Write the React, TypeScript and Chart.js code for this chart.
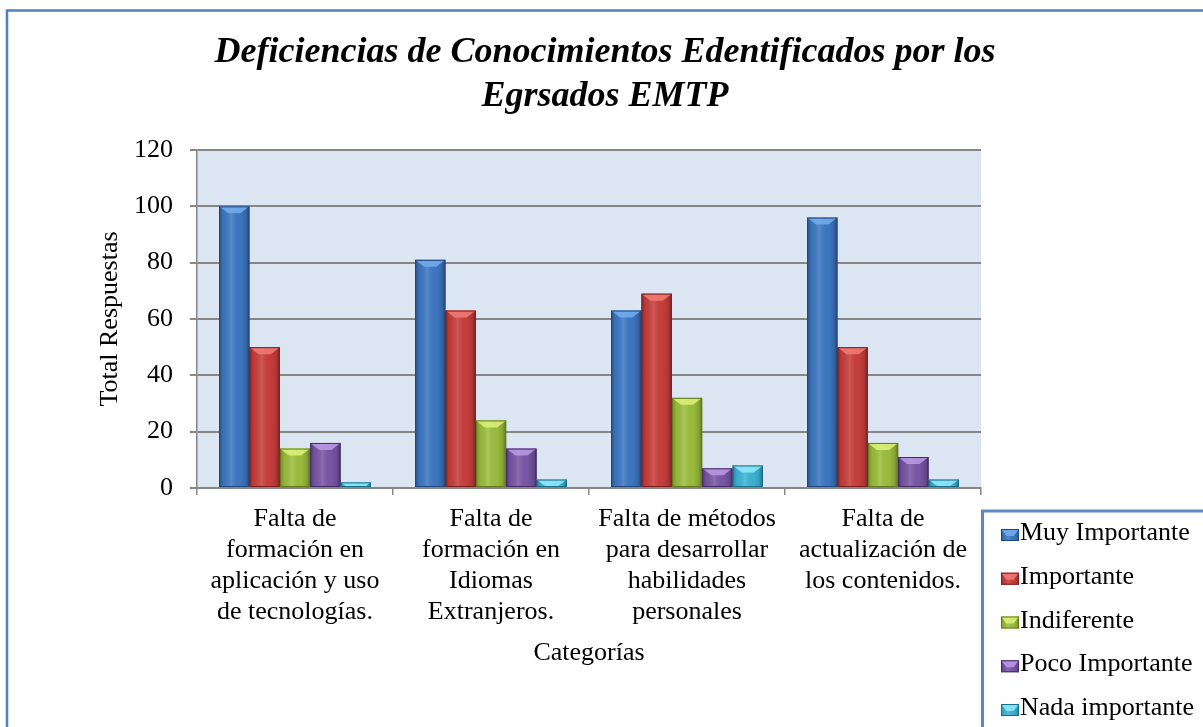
import React, { useEffect, useRef } from "react";
import { Chart, registerables } from "chart.js";

Chart.register(...registerables);

const chartTitle = ["Deficiencias de Conocimientos Edentificados por los", "Egrsados EMTP"];
const categories = [
  ["Falta de", "formación en", "aplicación y uso", "de tecnologías."],
  ["Falta de", "formación en", "Idiomas", "Extranjeros."],
  ["Falta de métodos", "para desarrollar", "habilidades", "personales"],
  ["Falta de", "actualización de", "los contenidos."],
];
const seriesNames = ["Muy Importante", "Importante", "Indiferente", "Poco Importante", "Nada importante"];
const muyImportante = [100, 81, 63, 96];
const importante = [50, 63, 69, 50];
const indiferente = [14, 24, 32, 16];
const pocoImportante = [16, 14, 7, 11];
const nadaImportante = [2, 3, 8, 3];
const seriesValues = [muyImportante, importante, indiferente, pocoImportante, nadaImportante];
const yMin = 0;
const yMax = 120;
const yStep = 20;
const xAxisTitle = "Categorías";
const yAxisTitle = "Total Respuestas";

const FONT = "'Liberation Serif', 'Times New Roman', Times, serif";
const GRID = "#868686";
const FRAME = "#4F81BD";
const PLOT_BG = "#DCE6F2";

const palette = [
  { fill: "#3D78C3", dark: "#1E477F", light: "#74AEEE" },
  { fill: "#C93F3C", dark: "#7E1C1A", light: "#F07C78" },
  { fill: "#9DBF3E", dark: "#5E7A1C", light: "#DDF27A" },
  { fill: "#7A57A7", dark: "#45296B", light: "#BB9BE4" },
  { fill: "#3DB6D7", dark: "#1A6F88", light: "#8FEAFB" },
];

function drawBevelBox(ctx: CanvasRenderingContext2D, l: number, t: number, w: number, h: number, pal: any) {
  if (h <= 0 || w <= 0) return;
  const r = l + w;
  ctx.save();
  const g = ctx.createLinearGradient(l, 0, r, 0);
  g.addColorStop(0, "rgba(0,0,0,0.30)");
  g.addColorStop(0.14, "rgba(0,0,0,0.06)");
  g.addColorStop(0.4, "rgba(255,255,255,0.13)");
  g.addColorStop(0.7, "rgba(0,0,0,0.02)");
  g.addColorStop(0.88, "rgba(0,0,0,0.14)");
  g.addColorStop(1, "rgba(0,0,0,0.38)");
  ctx.fillStyle = g;
  ctx.fillRect(l, t, w, h);
  const depth = Math.min(7, h);
  const inset = Math.min(w * 0.3, w / 2 - 1);
  ctx.beginPath();
  ctx.moveTo(l, t);
  ctx.lineTo(r, t);
  ctx.lineTo(r - inset * (depth / 7), t + depth);
  ctx.lineTo(l + inset * (depth / 7), t + depth);
  ctx.closePath();
  ctx.globalAlpha = 0.85;
  ctx.fillStyle = pal.light;
  ctx.fill();
  ctx.globalAlpha = 1;
  ctx.strokeStyle = pal.dark;
  ctx.lineWidth = 1;
  ctx.strokeRect(l + 0.5, t + 0.5, w - 1, h - 1);
  ctx.restore();
}

const plotBackgroundPlugin = {
  id: "plotBackground",
  beforeDraw(chart: any) {
    const { ctx, chartArea } = chart;
    ctx.save();
    ctx.fillStyle = "#ffffff";
    ctx.fillRect(0, 0, chart.width, chart.height);
    ctx.strokeStyle = FRAME;
    ctx.lineWidth = 2.5;
    ctx.beginPath();
    ctx.moveTo(7, chart.height + 5);
    ctx.lineTo(7, 10.5);
    ctx.lineTo(chart.width + 5, 10.5);
    ctx.stroke();
    ctx.fillStyle = PLOT_BG;
    ctx.fillRect(chartArea.left, chartArea.top, chartArea.right - chartArea.left, chartArea.bottom - chartArea.top);
    ctx.restore();
  },
};

const titlePlacementPlugin = {
  id: "titlePlacement",
  afterLayout(chart: any) {
    const tb = chart.titleBlock;
    if (tb) {
      tb.left = 6;
      tb.right = 1204;
      tb.width = tb.right - tb.left;
    }
  },
};

const bevelPlugin = {
  id: "bevel",
  afterDatasetsDraw(chart: any) {
    const ctx = chart.ctx;
    chart.data.datasets.forEach((_ds: any, di: number) => {
      const meta = chart.getDatasetMeta(di);
      if (meta.hidden) return;
      meta.data.forEach((el: any) => {
        const { x, y, base, width } = el.getProps(["x", "y", "base", "width"], true);
        const t = Math.min(y, base);
        const h = Math.abs(base - y);
        drawBevelBox(ctx, x - width / 2, t, width, h, palette[di]);
      });
    });
  },
};

const boxedLegendPlugin = {
  id: "boxedLegend",
  afterDraw(chart: any) {
    const { ctx, chartArea } = chart;
    const boxLeft = chartArea.right + 1.5;
    const boxTop = 511;
    ctx.save();
    ctx.fillStyle = "#ffffff";
    ctx.fillRect(boxLeft, boxTop, chart.width - boxLeft + 5, chart.height - boxTop + 5);
    ctx.strokeStyle = "#5A8AC6";
    ctx.lineWidth = 3;
    ctx.strokeRect(boxLeft, boxTop, chart.width - boxLeft + 20, chart.height - boxTop + 20);
    ctx.font = `26px ${FONT}`;
    ctx.textBaseline = "alphabetic";
    ctx.textAlign = "left";
    chart.data.datasets.forEach((ds: any, i: number) => {
      const baseline = 540 + i * 43.75;
      const pal = palette[i];
      ctx.fillStyle = pal.fill;
      ctx.fillRect(1001, baseline - 11, 18, 12);
      drawBevelBox(ctx, 1001, baseline - 11, 18, 12, pal);
      ctx.fillStyle = "#000000";
      ctx.fillText(ds.label, 1020, baseline);
    });
    ctx.restore();
  },
};

export default function App() {
  const canvasRef = useRef<HTMLCanvasElement | null>(null);

  useEffect(() => {
    const canvas = canvasRef.current;
    if (!canvas) return;
    const chart = new Chart(canvas, {
      type: "bar",
      data: {
        labels: categories,
        datasets: seriesNames.map((name, i) => ({
          label: name,
          data: seriesValues[i],
          backgroundColor: palette[i].fill,
          borderWidth: 0,
          categoryPercentage: 0.775,
          barPercentage: 1,
        })),
      },
      options: {
        responsive: false,
        animation: false,
        events: [],
        layout: { padding: { left: 0, right: 222, top: 0, bottom: 0 } },
        plugins: {
          legend: { display: false },
          tooltip: { enabled: false },
          title: {
            display: true,
            text: chartTitle,
            color: "#000000",
            font: { family: FONT, size: 36, weight: "bold", style: "italic", lineHeight: 44 / 36 },
            padding: { top: 31, bottom: 31 },
          },
        },
        scales: {
          x: {
            grid: { drawOnChartArea: false, drawTicks: true, tickLength: 7, color: GRID, lineWidth: 1.5, offset: true },
            border: { display: true, color: GRID, width: 2 },
            ticks: {
              autoSkip: false,
              maxRotation: 0,
              minRotation: 0,
              padding: 9,
              color: "#000000",
              font: { family: FONT, size: 26, lineHeight: 31 / 26 },
            },
            title: {
              display: true,
              text: xAxisTitle,
              color: "#000000",
              font: { family: FONT, size: 26 },
              padding: { top: 4, bottom: 58 },
            },
            afterFit: (s: any) => {
              s.height = 239;
            },
          },
          y: {
            min: yMin,
            max: yMax,
            ticks: {
              stepSize: yStep,
              padding: 17,
              color: "#000000",
              font: { family: FONT, size: 26 },
            },
            grid: { color: GRID, lineWidth: 2, tickLength: 7, drawTicks: true },
            border: { display: true, color: GRID, width: 1.5 },
            title: {
              display: true,
              text: yAxisTitle,
              color: "#000000",
              font: { family: FONT, size: 26 },
              padding: { top: 95, bottom: 0 },
            },
            afterFit: (s: any) => {
              s.width = 197;
            },
          },
        },
      } as any,
      plugins: [plotBackgroundPlugin, titlePlacementPlugin, bevelPlugin, boxedLegendPlugin],
    });
    return () => chart.destroy();
  }, []);

  return (
    <canvas
      ref={canvasRef}
      width={1203}
      height={727}
      style={{ position: "absolute", left: 0, top: 0, display: "block" }}
    />
  );
}
